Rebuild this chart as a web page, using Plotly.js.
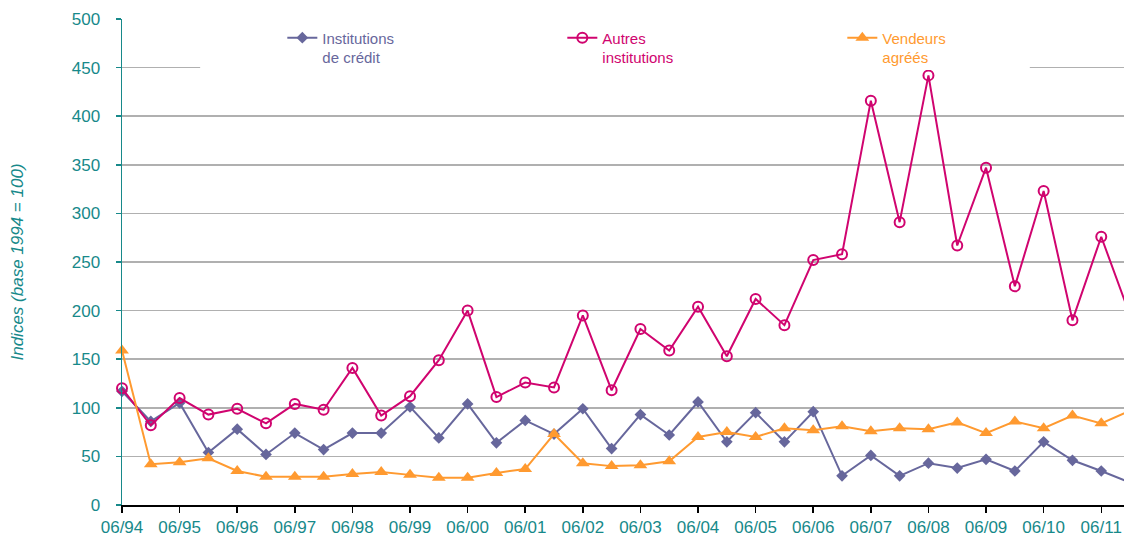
<!DOCTYPE html>
<html>
<head>
<meta charset="utf-8">
<script src="https://cdn.plot.ly/plotly-3.0.1.min.js"></script>
<style>
  html, body { margin: 0; padding: 0; background: #ffffff; }
  #chart { width: 1124px; height: 538px; }
</style>
</head>
<body>
<div id="chart"></div>
<script>
// Half-year periods (June / December)
const periods = [
  "06/94","12/94","06/95","12/95","06/96","12/96","06/97","12/97","06/98","12/98",
  "06/99","12/99","06/00","12/00","06/01","12/01","06/02","12/02","06/03","12/03",
  "06/04","12/04","06/05","12/05","06/06","12/06","06/07","12/07","06/08","12/08",
  "06/09","12/09","06/10","12/10","06/11","12/11"
];
// Labelled ticks (June of each year)
const tickLabels = ["06/94","06/95","06/96","06/97","06/98","06/99","06/00","06/01","06/02",
  "06/03","06/04","06/05","06/06","06/07","06/08","06/09","06/10","06/11"];

const seriesNames = ["Institutions<br>de crédit", "Autres<br>institutions", "Vendeurs<br>agréés"];

const institutionsCredit = [117, 86, 105, 54, 78, 52, 74, 57, 74, 74, 101, 69, 104, 64, 87, 73, 99, 58,
  93, 72, 106, 65, 95, 65, 96, 30, 51, 30, 43, 38, 47, 35, 65, 46, 35, 23];
const autresInstitutions = [120, 82, 110, 93, 99, 84, 104, 98, 141, 92, 112, 149, 200, 111, 126, 121, 195, 118,
  181, 159, 204, 153, 212, 185, 252, 258, 416, 291, 442, 267, 347, 225, 323, 190, 276, 195];
const vendeursAgrees = [159, 42, 44, 48, 35, 29, 29, 29, 32, 34, 31, 28, 28, 33, 37, 73, 43, 40,
  41, 45, 70, 75, 70, 79, 77, 81, 76, 79, 78, 85, 74, 86, 79, 92, 84, 97];

const yTitle = "Indices (base 1994 = 100)";

const teal = "#17898a";
const cPurple = "#67679c";
const cMagenta = "#d0046f";
const cOrange = "#ff9a30";
const FONT = "Liberation Sans, Arial, sans-serif";

function coloredName(name, color) {
  return name.split("<br>").map(s => '<span style="color:' + color + '">' + s + '</span>').join("<br>");
}

const traces = [
  {
    x: periods, y: institutionsCredit, name: coloredName(seriesNames[0], cPurple), type: "scatter", mode: "lines+markers",
    line: {color: cPurple, width: 2},
    marker: {symbol: "diamond", size: 9, color: cPurple},
    cliponaxis: false
  },
  {
    x: periods, y: autresInstitutions, name: coloredName(seriesNames[1], cMagenta), type: "scatter", mode: "lines+markers",
    line: {color: cMagenta, width: 2},
    marker: {symbol: "circle-open", size: 10, color: cMagenta, line: {width: 2, color: cMagenta}},
    cliponaxis: false
  },
  {
    x: periods, y: vendeursAgrees, name: coloredName(seriesNames[2], cOrange), type: "scatter", mode: "lines+markers",
    line: {color: cOrange, width: 2},
    marker: {symbol: "triangle-up", size: 12, color: cOrange},
    cliponaxis: false
  }
];

const layout = {
  width: 1124, height: 538,
  margin: {l: 122, r: 0, t: 19, b: 33, pad: 0, autoexpand: false},
  paper_bgcolor: "#ffffff", plot_bgcolor: "#ffffff",
  font: {family: FONT, size: 17, color: teal},
  showlegend: true,
  legend: {
    orientation: "h", x: 0.160, y: 0.995, xanchor: "left", yanchor: "top",
    xref: "paper", yref: "paper",
    entrywidth: 235, entrywidthmode: "pixels",
    valign: "top", bgcolor: "rgba(0,0,0,0)", borderwidth: 0,
    font: {family: FONT, size: 15},
    itemclick: false
  },
  xaxis: {
    type: "category", categoryorder: "array", categoryarray: periods,
    range: [0, 34.79],
    tickmode: "array", tickvals: tickLabels, ticktext: tickLabels,
    showgrid: false, zeroline: false,
    showline: true, linecolor: "#000000", linewidth: 1.5,
    ticks: "outside", ticklen: 6, tickwidth: 1.5, tickcolor: "#000000",
    tickfont: {family: FONT, size: 17, color: teal},
    fixedrange: true
  },
  yaxis: {
    range: [0, 500], dtick: 50, tick0: 0,
    showgrid: true, gridcolor: "#b0b0b0", gridwidth: 1.5,
    zeroline: false,
    showline: true, linecolor: teal, linewidth: 1.5,
    ticks: "outside", ticklen: 5, tickwidth: 1.5, tickcolor: teal,
    ticklabelstandoff: 12,
    tickfont: {family: FONT, size: 17, color: teal},
    title: {text: yTitle, font: {family: FONT, size: 17, color: teal, style: "italic"}, standoff: 44},
    fixedrange: true
  },
  shapes: [
    {
      type: "rect", layer: "above",
      xref: "paper", yref: "y",
      x0: 0.078, x1: 0.906, y0: 447.5, y1: 497,
      fillcolor: "#ffffff", line: {width: 0}
    }
  ]
};

Plotly.newPlot("chart", traces, layout, {displayModeBar: false, staticPlot: true});
</script>
</body>
</html>
